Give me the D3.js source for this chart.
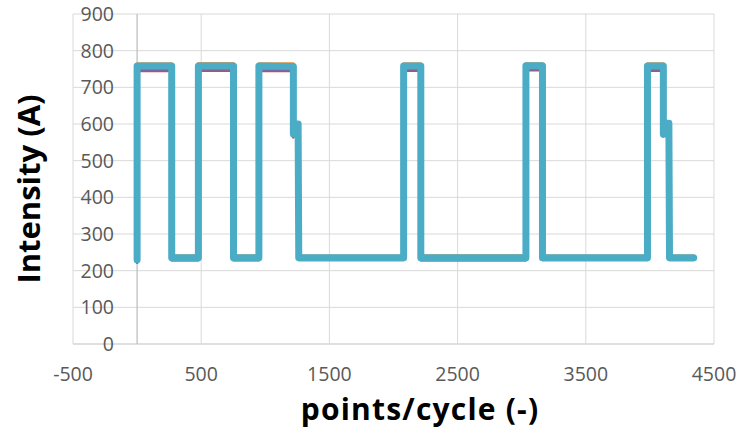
<!DOCTYPE html>
<html>
<head>
<meta charset="utf-8">
<script src="https://cdn.jsdelivr.net/npm/d3@7"></script>
<style>
  html, body { margin: 0; padding: 0; background: #ffffff; }
  svg { display: block; }
</style>
</head>
<body>
<svg id="chart" width="739" height="429"></svg>
<script>
// Axis ticks
const xTicks = [-500, 500, 1500, 2500, 3500, 4500];
const yTicks = [0, 100, 200, 300, 400, 500, 600, 700, 800, 900];

// Cycle points where the current switches level (shared by all runs)
const pointX = [0, 0, 270, 270, 478, 478, 752, 752, 950, 950, 1219, 1219, 1228, 1256, 1261,
                2079, 2079, 2213, 2213, 3033, 3033, 3162, 3162, 3981, 3981, 4105, 4105, 4113, 4148, 4153, 4342];

// Measured intensity of each run at those points (A)
const runBlue   = [228, 752, 752, 232, 232, 752, 752, 233, 233, 752, 752, 570, 600, 600, 232,
                   232, 752, 752, 232, 232, 753, 753, 232, 232, 752, 752, 570, 600, 600, 232, 232];
const runRed    = [222, 745, 745, 229, 229, 746, 746, 229, 229, 745, 745, 564, 597, 597, 230,
                   230, 746, 746, 229, 229, 747, 747, 230, 230, 746, 746, 568, 598, 598, 230, 230];
const runGreen  = [236, 762, 762, 239, 239, 762, 762, 239, 239, 763, 763, 578, 603, 603, 238,
                   238, 762, 762, 238, 238, 763, 763, 238, 238, 762, 762, 566, 604, 604, 238, 238];
const runPurple = [226, 748, 748, 230, 230, 749, 749, 231, 231, 748, 748, 570, 598, 598, 231,
                   231, 749, 749, 230, 230, 749, 749, 231, 231, 749, 749, 572, 599, 599, 231, 231];
const runOrange = [232, 764, 764, 240, 240, 765, 765, 240, 240, 764, 764, 576, 602, 602, 240,
                   240, 764, 764, 241, 241, 764, 764, 240, 240, 764, 764, 576, 602, 602, 240, 240];
const runCyan   = [230, 758, 758, 235, 235, 758, 758, 235, 235, 758, 757, 573, 600, 600, 235,
                   235, 758, 758, 235, 235, 759, 759, 235, 235, 758, 758, 572, 602, 602, 235, 235];

const runs = [
  { values: runBlue,   color: "#4F81BD", width: 3 },
  { values: runRed,    color: "#C0504D", width: 3 },
  { values: runGreen,  color: "#9BBB59", width: 3 },
  { values: runPurple, color: "#8064A2", width: 3 },
  { values: runOrange, color: "#F79646", width: 3 },
  { values: runCyan,   color: "#4BACC6", width: 7 }
];

const svg = d3.select("#chart");
const plotLeft = 73, plotRight = 714, plotTop = 14, plotBottom = 344;

const x = d3.scaleLinear().domain([-500, 4500]).range([plotLeft, plotRight]);
const y = d3.scaleLinear().domain([0, 900]).range([plotBottom, plotTop]);

// Gridlines
const grid = svg.append("g");
grid.selectAll("line.h").data(yTicks).join("line")
  .attr("x1", plotLeft).attr("x2", plotRight)
  .attr("y1", d => y(d)).attr("y2", d => y(d))
  .attr("stroke", d => d === 0 ? "#BFBFBF" : "#D9D9D9").attr("stroke-width", 1);
grid.selectAll("line.v").data(xTicks).join("line")
  .attr("y1", plotTop).attr("y2", plotBottom)
  .attr("x1", d => x(d)).attr("x2", d => x(d))
  .attr("stroke", "#D9D9D9").attr("stroke-width", 1);
// Vertical axis line at x = 0
grid.append("line")
  .attr("x1", x(0)).attr("x2", x(0)).attr("y1", plotTop).attr("y2", plotBottom)
  .attr("stroke", "#BFBFBF").attr("stroke-width", 1.3);

// Tick labels
const tickFont = "'Open Sans', sans-serif";
svg.append("g").selectAll("text").data(yTicks).join("text")
  .attr("x", 114).attr("y", d => y(d))
  .attr("dy", "0.36em")
  .attr("text-anchor", "end")
  .attr("font-family", tickFont).attr("font-size", 19.5)
  .attr("fill", "#595959")
  .text(d => d);
svg.append("g").selectAll("text").data(xTicks).join("text")
  .attr("x", d => x(d)).attr("y", 381)
  .attr("text-anchor", "middle")
  .attr("font-family", tickFont).attr("font-size", 19.5)
  .attr("fill", "#595959")
  .text(d => d);

// Runs
const line = d3.line()
  .x((d, i) => x(pointX[i]))
  .y(d => y(d));
svg.append("g").selectAll("path").data(runs).join("path")
  .attr("d", r => line(r.values))
  .attr("fill", "none")
  .attr("stroke", r => r.color)
  .attr("stroke-width", r => r.width)
  .attr("stroke-linejoin", "round")
  .attr("stroke-linecap", "round");

// Axis titles
svg.append("text")
  .attr("x", 420).attr("y", 420)
  .attr("text-anchor", "middle")
  .attr("font-family", tickFont).attr("font-weight", "bold").attr("font-size", 30)
  .attr("letter-spacing", 1.2)
  .attr("fill", "#000")
  .text("points/cycle (-)");
svg.append("text")
  .attr("transform", "translate(40,189) rotate(-90)")
  .attr("text-anchor", "middle")
  .attr("font-family", tickFont).attr("font-weight", "bold").attr("font-size", 31)
  .attr("fill", "#000")
  .text("Intensity (A)");
</script>
</body>
</html>
